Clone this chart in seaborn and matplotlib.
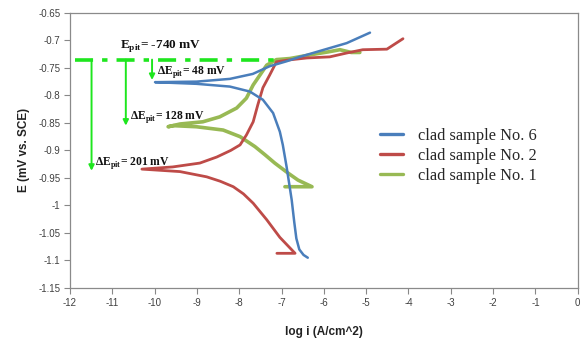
import matplotlib
matplotlib.use("Agg")
import matplotlib.pyplot as plt
import seaborn as sns
import pandas as pd
from matplotlib.lines import Line2D
from matplotlib.ticker import FormatStrFormatter, MultipleLocator

# ---- data ----
blue_x = [-6.38, -6.48, -6.58, -6.65, -6.70, -6.76, -6.82, -6.88, -6.97, -7.04, -7.20, -7.44, -7.75, -8.22, -9.01,
          -9.99, -9.01, -8.22, -7.68, -7.28, -6.88, -6.57, -6.26, -5.46, -4.91]
blue_y = [-1.095, -1.090, -1.080, -1.060, -1.030, -0.990, -0.960, -0.930, -0.890, -0.866, -0.832, -0.808, -0.793,
          -0.784, -0.779, -0.776, -0.775, -0.770, -0.761, -0.747, -0.738, -0.730, -0.723, -0.705, -0.686]

red_x = [-7.11, -6.68, -7.04, -7.35, -7.67, -7.90, -8.14, -8.45, -8.77, -9.40, -10.30,
         -9.57, -8.93, -8.53, -8.20, -7.98, -7.83, -7.67, -7.56, -7.44, -7.28, -7.12, -6.87, -6.40, -5.86, -5.46,
         -5.08, -4.51, -4.13]
red_y = [-1.087, -1.087, -1.058, -1.026, -0.996, -0.979, -0.966, -0.956, -0.948, -0.9385, -0.934,
         -0.930, -0.923, -0.912, -0.900, -0.890, -0.872, -0.848, -0.817, -0.786, -0.763, -0.739, -0.736, -0.732,
         -0.730, -0.723, -0.717, -0.716, -0.697]

green_x = [-6.92, -6.28, -6.61, -6.85, -7.16, -7.39, -7.63, -7.98, -8.38, -9.01, -9.56, -9.68,
           -9.40, -8.86, -8.46, -8.06, -7.83, -7.67, -7.51, -7.35, -7.12, -6.80, -6.30, -5.90, -5.62, -5.35, -5.15]
green_y = [-0.966, -0.966, -0.954, -0.941, -0.923, -0.908, -0.893, -0.875, -0.863, -0.857, -0.855, -0.857,
           -0.852, -0.848, -0.839, -0.823, -0.805, -0.781, -0.763, -0.745, -0.735, -0.733, -0.726, -0.721, -0.717,
           -0.722, -0.722]

series_names = ["clad sample No. 6", "clad sample No. 2", "clad sample No. 1"]
series_colors = ["#4a7ebb", "#be4b48", "#98b954"]

e_pit = -0.735
e_pit_label = "-740 mV"
delta_labels = ["48 mV", "128 mV", "201 mV"]
delta_arrow_x = [-10.06, -10.68, -11.49]
delta_arrow_end = [-0.772, -0.855, -0.937]
delta_text_xy = [(-9.95, -0.757), (-10.58, -0.839), (-11.41, -0.923)]

x_ticks = list(range(-12, 1))

# ---- build table ----
frames = []
for name, xs, ys in zip(series_names, [blue_x, red_x, green_x], [blue_y, red_y, green_y]):
    frames.append(pd.DataFrame({"logi": xs, "E": ys, "series": name, "order": range(len(xs))}))
df = pd.concat(frames, ignore_index=True)

sns.set_theme(style="white")
plt.rcParams["font.family"] = ["Liberation Sans", "DejaVu Sans"]

fig = plt.figure(figsize=(5.83, 3.38), dpi=100)
ax = fig.add_axes([0.120, 0.148, 0.871, 0.814])

widths = {series_names[0]: 1.8, series_names[1]: 2.0, series_names[2]: 2.6}
zorders = {series_names[0]: 5, series_names[1]: 4, series_names[2]: 3}
for name, col in zip(series_names, series_colors):
    sub = df[df["series"] == name]
    sns.lineplot(data=sub, x="logi", y="E", sort=False, estimator=None, color=col,
                 lw=widths[name], ax=ax, zorder=zorders[name], legend=False)

# E_pit dash-dot line
green_a = "#1ee61e"
ax.plot([-11.88, -7.04], [e_pit, e_pit], color=green_a, lw=2.6, dashes=(5, 2.5, 1.5, 2.5), zorder=6)

for xa, ye in zip(delta_arrow_x, delta_arrow_end):
    ax.annotate("", xy=(xa, ye), xytext=(xa, e_pit),
                arrowprops=dict(arrowstyle="-|>", color=green_a, lw=1.4, mutation_scale=8,
                                shrinkA=0, shrinkB=0), zorder=6)

serif = ["Liberation Serif", "DejaVu Serif"]
ax.text(-10.82, -0.710, r"E$_{\mathregular{pit}}$= " + e_pit_label, family=serif, fontweight="bold",
        fontsize=9.5, va="center", ha="left", color="#111111")
for (tx, ty), lab in zip(delta_text_xy, delta_labels):
    ax.text(tx, ty, r"ΔE$_{\mathregular{pit}}$= " + lab, family=serif, fontweight="bold",
            fontsize=8.4, va="center", ha="left", color="#111111")

ax.set_xlim(-12, 0)
ax.set_ylim(-1.15, -0.65)
ax.set_xticks(x_ticks)
ax.yaxis.set_major_locator(MultipleLocator(0.05))
ax.yaxis.set_major_formatter(FormatStrFormatter("%g"))
ax.xaxis.set_major_formatter(FormatStrFormatter("%g"))
ax.tick_params(axis="both", which="major", labelsize=7, labelcolor="#404040", direction="out",
               length=4, width=0.8, color="#888888", bottom=True, left=True, pad=3)
for s in ax.spines.values():
    s.set_visible(True)
    s.set_color("#8a8a8a")
    s.set_linewidth(0.9)

ax.set_xlabel("log i (A/cm^2)", fontsize=8.5, fontweight="bold", color="#222222", labelpad=13)
ax.set_ylabel("E (mV vs. SCE)", fontsize=8.5, fontweight="bold", color="#222222", labelpad=6)

handles = [Line2D([], [], color=c, lw=2.4) for c in series_colors]
ax.legend(handles, series_names, loc="center left", bbox_to_anchor=(0.61, 0.48), frameon=False,
          prop={"family": serif, "size": 11.8}, handlelength=1.4, handletextpad=0.95,
          labelspacing=0.25, borderaxespad=0, borderpad=0)

fig.savefig("out.png", dpi=100)
